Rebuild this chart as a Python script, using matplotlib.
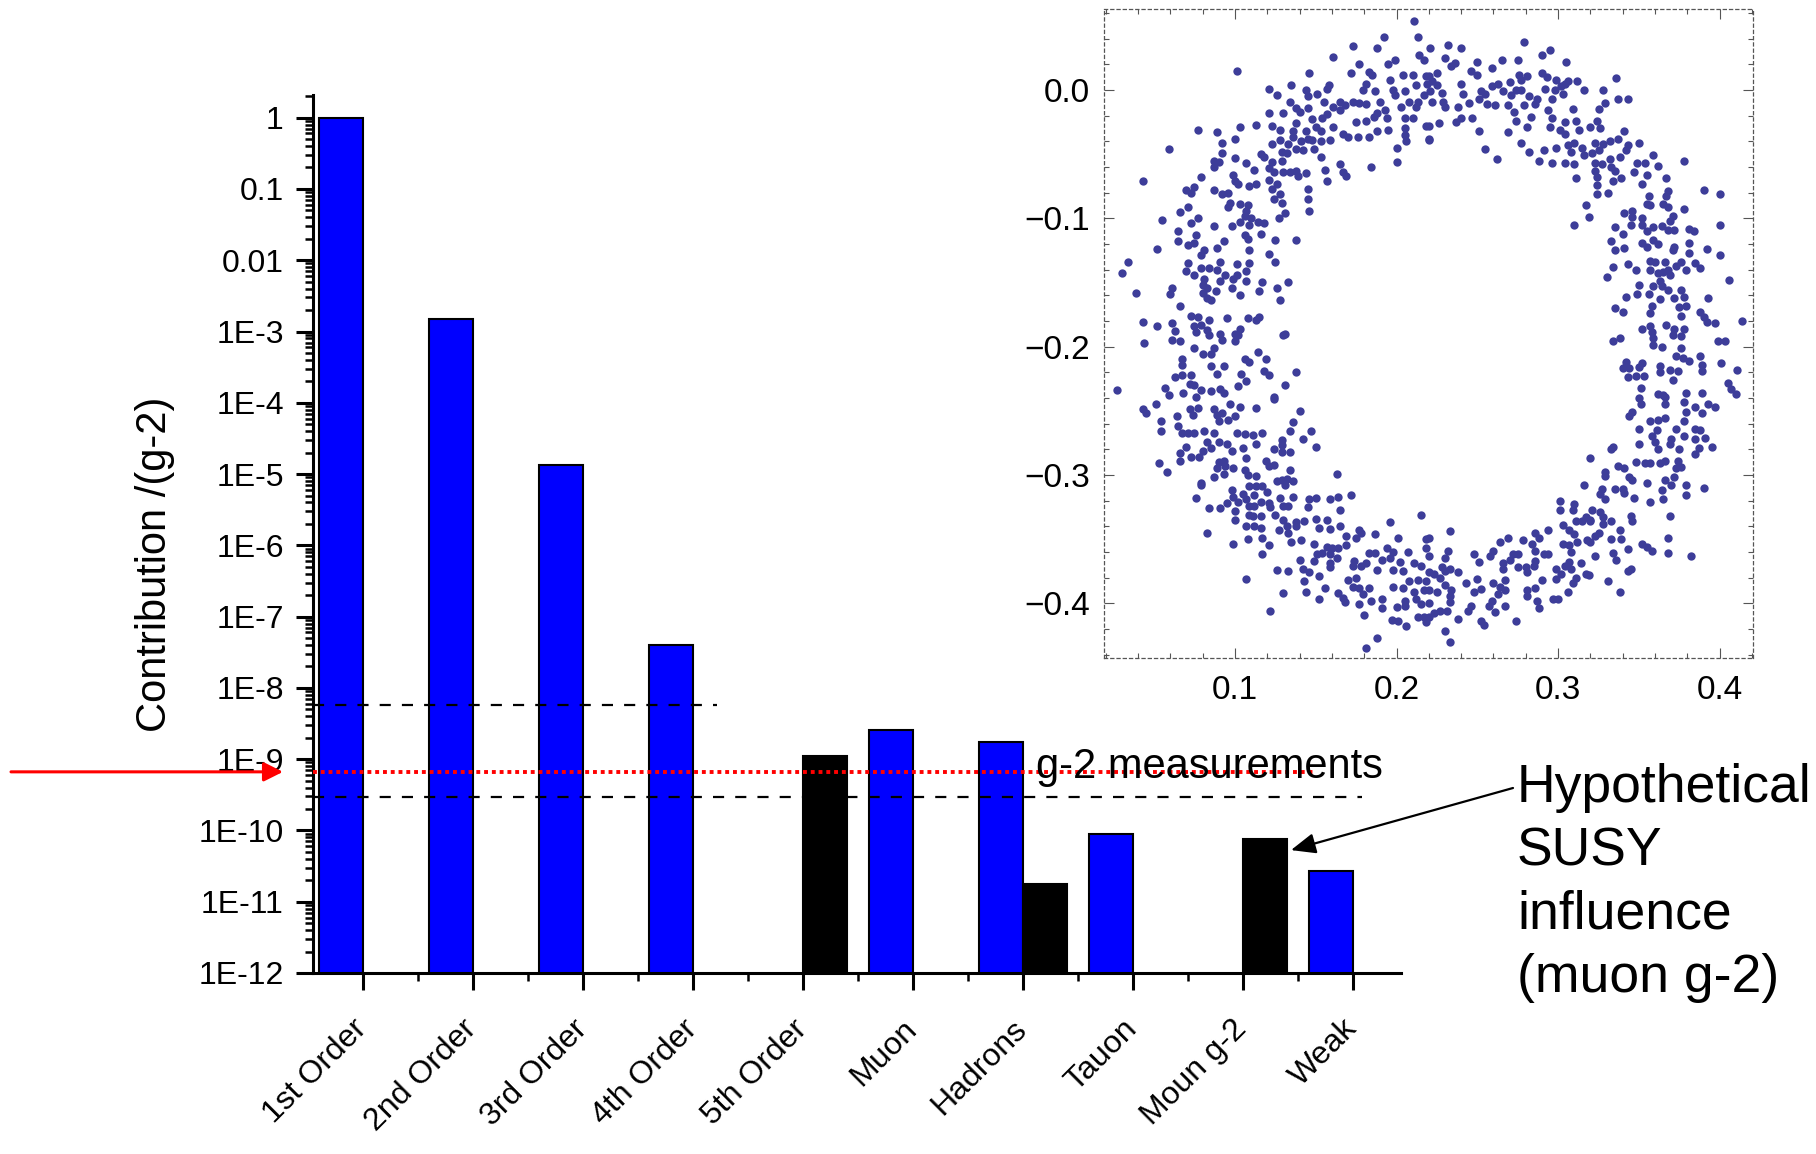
import matplotlib
matplotlib.use('Agg')
import matplotlib.pyplot as plt
import numpy as np
from matplotlib.ticker import MultipleLocator, LogLocator, NullFormatter, FuncFormatter

plt.rcParams['font.family'] = ['Liberation Sans', 'DejaVu Sans']

# ---- main bar chart data (contribution relative to g-2) ----
categories = ['1st Order', '2nd Order', '3rd Order', '4th Order', '5th Order',
              'Muon', 'Hadrons', 'Tauon', 'Moun g-2', 'Weak']
blue_vals = [1.0, 1.52e-3, 1.35e-5, 4.06e-8, np.nan,
             2.53e-9, 1.73e-9, 8.98e-11, np.nan, 2.72e-11]
black_vals = [np.nan, np.nan, np.nan, np.nan, 1.11e-9,
              np.nan, 1.77e-11, np.nan, 7.55e-11, np.nan]

y_ticks = [1, 0.1, 0.01, 1e-3, 1e-4, 1e-5, 1e-6, 1e-7, 1e-8, 1e-9, 1e-10, 1e-11, 1e-12]
y_tick_labels = ['1', '0.1', '0.01', '1E-3', '1E-4', '1E-5', '1E-6', '1E-7',
                 '1E-8', '1E-9', '1E-10', '1E-11', '1E-12']

# reference lines: measurement band and measured value
band_upper, band_upper_end = 5.67e-9, 3.22
band_lower, band_lower_end = 2.93e-10, 9.09
g2_measured, g2_measured_end = 6.64e-10, 8.66
susy_tip = (8.44, 5.3e-11)

# ---- inset scatter (ring of points) ----
ring_upper_left = [
    (0.211, 0.054), (0.192, 0.041), (0.213, 0.041), (0.173, 0.034), (0.188, 0.033), (0.161, 0.026), (0.214, 0.027),
    (0.199, 0.023), (0.195, 0.020), (0.217, 0.023), (0.177, 0.020), (0.101, 0.015), (0.146, 0.013), (0.172, 0.013),
    (0.183, 0.014), (0.185, 0.012), (0.204, 0.012), (0.210, 0.012), (0.218, 0.011), (0.196, 0.008), (0.219, 0.005),
    (0.135, 0.004), (0.121, 0.001), (0.158, 0.004), (0.181, 0.005), (0.212, 0.004), (0.144, 0.000), (0.151, -0.003),
    (0.179, 0.000), (0.187, -0.001), (0.198, 0.000), (0.205, -0.001), (0.126, -0.004), (0.145, -0.005), (0.157, 0.001),
    (0.199, -0.004), (0.217, -0.004), (0.134, -0.009), (0.155, -0.009), (0.165, -0.009), (0.173, -0.009), (0.177, -0.010),
    (0.181, -0.011), (0.190, -0.009), (0.208, -0.009), (0.213, -0.009), (0.138, -0.014), (0.145, -0.014), (0.161, -0.013),
    (0.168, -0.012), (0.203, -0.013), (0.212, -0.013), (0.121, -0.018), (0.130, -0.018), (0.140, -0.017), (0.165, -0.016),
    (0.188, -0.018), (0.193, -0.016), (0.148, -0.023), (0.154, -0.022), (0.157, -0.019), (0.175, -0.025), (0.181, -0.024),
    (0.186, -0.021), (0.194, -0.022), (0.205, -0.022), (0.210, -0.022), (0.113, -0.027), (0.123, -0.028), (0.138, -0.026),
    (0.150, -0.029), (0.161, -0.029), (0.218, -0.028), (0.077, -0.031), (0.089, -0.033), (0.103, -0.029), (0.128, -0.031),
    (0.136, -0.032), (0.144, -0.032), (0.153, -0.032), (0.188, -0.032), (0.195, -0.031), (0.205, -0.030), (0.167, -0.034),
    (0.170, -0.037), (0.176, -0.037), (0.183, -0.037), (0.205, -0.035), (0.100, -0.038), (0.128, -0.039), (0.136, -0.037),
    (0.145, -0.038), (0.148, -0.039), (0.159, -0.039), (0.092, -0.041), (0.123, -0.042), (0.133, -0.042), (0.141, -0.040),
    (0.153, -0.040), (0.206, -0.040), (0.220, -0.039), (0.059, -0.046), (0.138, -0.046), (0.142, -0.047), (0.149, -0.046),
    (0.200, -0.045), (0.092, -0.049), (0.116, -0.050), (0.129, -0.048), (0.132, -0.049), (0.100, -0.053), (0.153, -0.052),
    (0.129, -0.055), (0.087, -0.055), (0.090, -0.056), (0.107, -0.057), (0.118, -0.052), (0.123, -0.056), (0.165, -0.058),
    (0.200, -0.056), (0.184, -0.060), (0.087, -0.060), (0.099, -0.066), (0.112, -0.062), (0.121, -0.061), (0.124, -0.064),
    (0.130, -0.064), (0.134, -0.064), (0.138, -0.063), (0.139, -0.067), (0.144, -0.065), (0.156, -0.062), (0.167, -0.064),
    (0.169, -0.067), (0.043, -0.071), (0.079, -0.068), (0.100, -0.071), (0.102, -0.073), (0.109, -0.075), (0.113, -0.073),
    (0.121, -0.070), (0.126, -0.073), (0.157, -0.071), (0.070, -0.078), (0.075, -0.076), (0.073, -0.080), (0.087, -0.078),
    (0.092, -0.081), (0.096, -0.080), (0.123, -0.077), (0.128, -0.081), (0.145, -0.077), (0.066, -0.095), (0.071, -0.091),
    (0.096, -0.091), (0.097, -0.088), (0.103, -0.089), (0.108, -0.090), (0.107, -0.094), (0.124, -0.085), (0.129, -0.088),
    (0.145, -0.085), (0.146, -0.094), (0.055, -0.101), (0.077, -0.100), (0.106, -0.098), (0.110, -0.100), (0.114, -0.103),
    (0.118, -0.104), (0.127, -0.100), (0.131, -0.096), (0.073, -0.104), (0.087, -0.106), (0.098, -0.106), (0.103, -0.103),
    (0.109, -0.105), (0.065, -0.110), (0.076, -0.113), (0.106, -0.113), (0.108, -0.116), (0.116, -0.112), (0.065, -0.118),
    (0.071, -0.121), (0.075, -0.119), (0.093, -0.118), (0.125, -0.117), (0.138, -0.117), (0.052, -0.124), (0.081, -0.125),
    (0.079, -0.129), (0.089, -0.123), (0.109, -0.125), (0.121, -0.128), (0.034, -0.134), (0.071, -0.135), (0.091, -0.134),
    (0.101, -0.136), (0.109, -0.135), (0.125, -0.134), (0.030, -0.143), (0.070, -0.141), (0.075, -0.144), (0.079, -0.139),
    (0.084, -0.139), (0.089, -0.140), (0.107, -0.141), (0.094, -0.144), (0.081, -0.147), (0.091, -0.149), (0.099, -0.147),
    (0.101, -0.144), (0.107, -0.149), (0.117, -0.150), (0.133, -0.150), (0.039, -0.158), (0.061, -0.154), (0.060, -0.159),
    (0.080, -0.152), (0.083, -0.154), (0.080, -0.158), (0.088, -0.157), (0.098, -0.154), (0.103, -0.160), (0.115, -0.157),
    (0.126, -0.154), (0.083, -0.162), (0.085, -0.164), (0.128, -0.164), (0.066, -0.168), (0.073, -0.176), (0.077, -0.177),
    (0.084, -0.179), (0.095, -0.178), (0.108, -0.178), (0.113, -0.179), (0.115, -0.177), (0.043, -0.181), (0.052, -0.184),
    (0.061, -0.182), (0.075, -0.184), (0.079, -0.183), (0.063, -0.188), (0.083, -0.187), (0.091, -0.190), (0.103, -0.186),
    (0.100, -0.190), (0.131, -0.190),
]
ring_upper_right = [
    (0.221, 0.033), (0.232, 0.035), (0.240, 0.033), (0.279, 0.037), (0.290, 0.027), (0.295, 0.031), (0.230, 0.025),
    (0.250, 0.022), (0.265, 0.023), (0.275, 0.023), (0.305, 0.022), (0.236, 0.021), (0.234, 0.019), (0.259, 0.017),
    (0.246, 0.015), (0.225, 0.013), (0.250, 0.012), (0.220, 0.011), (0.276, 0.012), (0.281, 0.011), (0.290, 0.013),
    (0.293, 0.010), (0.299, 0.008), (0.304, 0.005), (0.312, 0.007), (0.336, 0.009), (0.222, 0.007), (0.225, 0.004),
    (0.240, 0.005), (0.263, 0.005), (0.270, 0.006), (0.277, 0.008), (0.259, 0.003), (0.292, 0.001), (0.306, 0.007),
    (0.302, 0.003), (0.316, 0.000), (0.328, 0.000), (0.221, -0.001), (0.228, -0.002), (0.241, -0.003), (0.252, -0.001),
    (0.255, -0.003), (0.266, -0.001), (0.274, 0.000), (0.277, 0.000), (0.298, 0.000), (0.303, -0.003), (0.222, -0.009),
    (0.229, -0.009), (0.245, -0.010), (0.251, -0.007), (0.256, -0.011), (0.261, -0.012), (0.269, -0.012), (0.271, -0.004),
    (0.282, -0.005), (0.287, -0.007), (0.296, -0.007), (0.286, -0.011), (0.279, -0.012), (0.329, -0.010), (0.337, -0.007),
    (0.343, -0.007), (0.230, -0.013), (0.238, -0.013), (0.309, -0.015), (0.325, -0.015), (0.273, -0.017), (0.294, -0.016),
    (0.240, -0.022), (0.247, -0.022), (0.283, -0.021), (0.296, -0.022), (0.311, -0.024), (0.324, -0.024), (0.274, -0.024),
    (0.304, -0.025), (0.220, -0.028), (0.237, -0.025), (0.226, -0.026), (0.295, -0.029), (0.281, -0.029), (0.301, -0.031),
    (0.313, -0.031), (0.320, -0.029), (0.326, -0.030), (0.251, -0.032), (0.269, -0.033), (0.304, -0.034), (0.341, -0.032),
    (0.220, -0.038), (0.277, -0.041), (0.306, -0.043), (0.310, -0.041), (0.323, -0.041), (0.328, -0.042), (0.332, -0.040),
    (0.337, -0.038), (0.350, -0.041), (0.255, -0.046), (0.282, -0.048), (0.291, -0.047), (0.299, -0.045), (0.308, -0.048),
    (0.315, -0.045), (0.325, -0.047), (0.343, -0.043), (0.342, -0.047), (0.262, -0.054), (0.288, -0.055), (0.296, -0.057),
    (0.304, -0.057), (0.310, -0.058), (0.316, -0.051), (0.321, -0.049), (0.332, -0.054), (0.338, -0.052), (0.359, -0.051),
    (0.378, -0.055), (0.323, -0.057), (0.327, -0.058), (0.333, -0.060), (0.349, -0.057), (0.354, -0.057), (0.362, -0.059),
    (0.323, -0.063), (0.335, -0.063), (0.347, -0.064), (0.355, -0.066), (0.311, -0.069), (0.324, -0.068), (0.334, -0.071),
    (0.339, -0.069), (0.352, -0.073), (0.367, -0.069), (0.324, -0.074), (0.331, -0.080), (0.324, -0.081), (0.368, -0.079),
    (0.390, -0.078), (0.400, -0.081), (0.356, -0.083), (0.367, -0.083), (0.317, -0.090), (0.355, -0.089), (0.357, -0.090),
    (0.365, -0.089), (0.368, -0.091), (0.378, -0.093), (0.319, -0.099), (0.341, -0.096), (0.346, -0.094), (0.346, -0.099),
    (0.352, -0.100), (0.371, -0.098), (0.310, -0.105), (0.335, -0.107), (0.340, -0.112), (0.345, -0.105), (0.352, -0.105),
    (0.355, -0.110), (0.359, -0.107), (0.364, -0.106), (0.369, -0.102), (0.368, -0.109), (0.372, -0.109), (0.381, -0.108),
    (0.384, -0.110), (0.400, -0.105), (0.333, -0.118), (0.341, -0.123), (0.335, -0.125), (0.352, -0.119), (0.359, -0.117),
    (0.362, -0.120), (0.355, -0.122), (0.372, -0.122), (0.371, -0.125), (0.381, -0.119), (0.392, -0.124), (0.381, -0.127),
    (0.400, -0.129), (0.334, -0.138), (0.343, -0.136), (0.348, -0.140), (0.357, -0.133), (0.360, -0.134), (0.366, -0.134),
    (0.357, -0.140), (0.362, -0.143), (0.368, -0.140), (0.373, -0.137), (0.376, -0.134), (0.379, -0.140), (0.385, -0.135),
    (0.388, -0.139), (0.365, -0.142), (0.369, -0.144), (0.330, -0.146), (0.363, -0.149), (0.364, -0.153), (0.350, -0.152),
    (0.368, -0.156), (0.376, -0.156), (0.406, -0.148), (0.342, -0.161), (0.349, -0.159), (0.356, -0.159), (0.359, -0.153),
    (0.363, -0.163), (0.372, -0.162), (0.378, -0.161), (0.393, -0.162), (0.335, -0.170), (0.340, -0.173), (0.358, -0.168),
    (0.357, -0.174), (0.375, -0.169), (0.379, -0.168), (0.388, -0.173), (0.390, -0.177), (0.376, -0.176), (0.392, -0.181),
    (0.397, -0.182), (0.414, -0.180), (0.352, -0.186), (0.357, -0.184), (0.367, -0.183), (0.372, -0.186), (0.378, -0.186),
]
ring_lower_left = [
    (0.044, -0.197), (0.061, -0.195), (0.066, -0.196), (0.076, -0.189), (0.084, -0.191), (0.092, -0.195), (0.100, -0.196),
    (0.102, -0.191), (0.130, -0.191), (0.075, -0.201), (0.087, -0.201), (0.080, -0.206), (0.085, -0.206), (0.114, -0.204),
    (0.067, -0.210), (0.106, -0.210), (0.109, -0.212), (0.119, -0.210), (0.067, -0.214), (0.085, -0.215), (0.093, -0.215),
    (0.118, -0.219), (0.121, -0.222), (0.138, -0.220), (0.089, -0.221), (0.063, -0.224), (0.067, -0.222), (0.073, -0.222),
    (0.104, -0.221), (0.107, -0.227), (0.072, -0.229), (0.075, -0.230), (0.131, -0.230), (0.027, -0.234), (0.057, -0.232),
    (0.102, -0.231), (0.079, -0.234), (0.085, -0.235), (0.091, -0.233), (0.068, -0.236), (0.059, -0.238), (0.076, -0.239),
    (0.093, -0.236), (0.124, -0.239), (0.124, -0.241), (0.051, -0.245), (0.097, -0.245), (0.103, -0.247), (0.043, -0.249),
    (0.045, -0.252), (0.072, -0.249), (0.077, -0.248), (0.087, -0.249), (0.113, -0.248), (0.140, -0.250), (0.064, -0.254),
    (0.089, -0.253), (0.092, -0.252), (0.100, -0.254), (0.074, -0.253), (0.054, -0.258), (0.090, -0.258), (0.096, -0.257),
    (0.136, -0.259), (0.054, -0.266), (0.065, -0.262), (0.067, -0.267), (0.071, -0.267), (0.075, -0.267), (0.081, -0.266),
    (0.087, -0.267), (0.101, -0.267), (0.106, -0.268), (0.111, -0.269), (0.117, -0.267), (0.134, -0.266), (0.147, -0.266),
    (0.142, -0.272), (0.129, -0.273), (0.083, -0.274), (0.090, -0.274), (0.095, -0.276), (0.070, -0.278), (0.105, -0.279),
    (0.113, -0.276), (0.129, -0.277), (0.150, -0.278), (0.066, -0.283), (0.080, -0.281), (0.085, -0.279), (0.098, -0.281),
    (0.124, -0.280), (0.129, -0.282), (0.134, -0.282), (0.073, -0.286), (0.078, -0.286), (0.107, -0.287), (0.053, -0.291),
    (0.066, -0.289), (0.090, -0.290), (0.093, -0.289), (0.089, -0.295), (0.094, -0.293), (0.099, -0.295), (0.119, -0.289),
    (0.121, -0.293), (0.124, -0.292), (0.058, -0.298), (0.093, -0.299), (0.106, -0.296), (0.108, -0.300), (0.113, -0.301),
    (0.134, -0.296), (0.087, -0.302), (0.126, -0.305), (0.129, -0.304), (0.132, -0.303), (0.136, -0.305), (0.163, -0.299),
    (0.079, -0.306), (0.079, -0.308), (0.098, -0.312), (0.109, -0.309), (0.113, -0.309), (0.117, -0.309), (0.120, -0.313),
    (0.131, -0.308), (0.076, -0.318), (0.099, -0.317), (0.105, -0.315), (0.107, -0.319), (0.102, -0.321), (0.112, -0.316),
    (0.116, -0.321), (0.121, -0.322), (0.128, -0.318), (0.136, -0.317), (0.146, -0.319), (0.150, -0.318), (0.159, -0.319),
    (0.164, -0.317), (0.172, -0.316), (0.084, -0.326), (0.091, -0.326), (0.095, -0.322), (0.100, -0.328), (0.109, -0.324),
    (0.112, -0.324), (0.122, -0.325), (0.130, -0.324), (0.133, -0.324), (0.145, -0.325), (0.165, -0.327), (0.109, -0.331),
    (0.111, -0.332), (0.116, -0.332), (0.125, -0.331), (0.130, -0.335), (0.138, -0.337), (0.143, -0.336), (0.150, -0.334),
    (0.157, -0.335), (0.215, -0.331), (0.100, -0.335), (0.107, -0.340), (0.112, -0.340), (0.116, -0.341), (0.132, -0.340),
    (0.138, -0.340), (0.152, -0.341), (0.159, -0.342), (0.165, -0.340), (0.177, -0.343), (0.196, -0.337), (0.083, -0.345),
    (0.127, -0.343), (0.133, -0.345), (0.169, -0.348), (0.175, -0.349), (0.178, -0.345), (0.187, -0.346), (0.201, -0.349),
    (0.218, -0.350), (0.099, -0.354), (0.108, -0.350), (0.117, -0.349), (0.135, -0.352), (0.141, -0.351), (0.149, -0.354),
    (0.157, -0.356), (0.160, -0.357), (0.164, -0.357), (0.169, -0.355), (0.121, -0.355), (0.218, -0.357), (0.117, -0.362),
    (0.151, -0.362), (0.154, -0.361), (0.159, -0.362), (0.183, -0.361), (0.187, -0.361), (0.194, -0.357), (0.198, -0.360),
    (0.207, -0.360), (0.140, -0.366), (0.149, -0.367), (0.159, -0.369), (0.163, -0.365), (0.174, -0.367), (0.178, -0.371),
    (0.181, -0.369), (0.188, -0.374), (0.191, -0.366), (0.196, -0.365), (0.202, -0.368), (0.211, -0.369), (0.215, -0.371),
    (0.126, -0.374), (0.133, -0.375), (0.142, -0.373), (0.146, -0.376), (0.152, -0.379), (0.159, -0.372), (0.173, -0.371),
    (0.198, -0.374), (0.204, -0.375), (0.220, -0.376), (0.107, -0.381), (0.143, -0.383), (0.170, -0.382), (0.175, -0.380),
    (0.208, -0.383), (0.213, -0.382), (0.218, -0.383), (0.144, -0.391), (0.130, -0.392), (0.156, -0.388), (0.164, -0.392),
    (0.173, -0.387), (0.177, -0.388), (0.183, -0.388), (0.198, -0.387), (0.204, -0.388), (0.211, -0.391), (0.217, -0.390),
    (0.152, -0.397), (0.167, -0.396), (0.168, -0.399), (0.179, -0.393), (0.184, -0.398), (0.191, -0.397), (0.205, -0.398),
    (0.212, -0.397), (0.122, -0.406), (0.177, -0.401), (0.191, -0.404), (0.200, -0.403), (0.205, -0.402), (0.215, -0.401),
    (0.180, -0.409), (0.213, -0.411), (0.217, -0.411), (0.197, -0.413), (0.201, -0.414), (0.206, -0.418), (0.218, -0.415),
    (0.188, -0.427), (0.181, -0.435),
]
ring_lower_right = [
    (0.334, -0.196), (0.338, -0.193), (0.358, -0.189), (0.359, -0.193), (0.371, -0.191), (0.376, -0.192), (0.359, -0.199),
    (0.364, -0.200), (0.376, -0.201), (0.399, -0.196), (0.403, -0.196), (0.373, -0.207), (0.377, -0.209), (0.388, -0.207),
    (0.381, -0.211), (0.342, -0.212), (0.352, -0.213), (0.401, -0.213), (0.340, -0.217), (0.344, -0.217), (0.350, -0.216),
    (0.363, -0.215), (0.369, -0.218), (0.374, -0.219), (0.389, -0.214), (0.389, -0.219), (0.411, -0.218), (0.363, -0.220),
    (0.343, -0.224), (0.348, -0.223), (0.353, -0.223), (0.371, -0.226), (0.405, -0.228), (0.351, -0.232), (0.407, -0.233),
    (0.410, -0.237), (0.362, -0.237), (0.365, -0.238), (0.379, -0.236), (0.389, -0.236), (0.350, -0.240), (0.366, -0.239),
    (0.351, -0.245), (0.366, -0.245), (0.378, -0.243), (0.393, -0.245), (0.397, -0.247), (0.385, -0.247), (0.346, -0.251),
    (0.344, -0.254), (0.379, -0.251), (0.389, -0.252), (0.357, -0.258), (0.362, -0.257), (0.366, -0.256), (0.378, -0.258),
    (0.350, -0.264), (0.361, -0.265), (0.373, -0.264), (0.385, -0.264), (0.388, -0.265), (0.358, -0.270), (0.370, -0.272),
    (0.378, -0.270), (0.385, -0.272), (0.391, -0.271), (0.350, -0.276), (0.360, -0.274), (0.369, -0.276), (0.362, -0.280),
    (0.375, -0.280), (0.387, -0.279), (0.395, -0.278), (0.385, -0.284), (0.333, -0.280), (0.334, -0.278), (0.320, -0.287),
    (0.348, -0.290), (0.354, -0.291), (0.357, -0.291), (0.363, -0.291), (0.366, -0.289), (0.374, -0.289), (0.376, -0.294),
    (0.337, -0.293), (0.341, -0.295), (0.329, -0.298), (0.329, -0.301), (0.344, -0.302), (0.346, -0.304), (0.355, -0.306),
    (0.372, -0.302), (0.373, -0.295), (0.366, -0.304), (0.370, -0.308), (0.379, -0.308), (0.390, -0.310), (0.316, -0.308),
    (0.327, -0.311), (0.335, -0.311), (0.340, -0.311), (0.326, -0.315), (0.329, -0.319), (0.341, -0.314), (0.347, -0.318),
    (0.357, -0.321), (0.364, -0.312), (0.365, -0.319), (0.379, -0.316), (0.301, -0.320), (0.301, -0.327), (0.310, -0.323),
    (0.309, -0.327), (0.321, -0.327), (0.326, -0.329), (0.317, -0.333), (0.320, -0.336), (0.328, -0.333), (0.333, -0.336),
    (0.345, -0.332), (0.346, -0.336), (0.369, -0.332), (0.303, -0.339), (0.311, -0.336), (0.315, -0.336), (0.307, -0.343),
    (0.310, -0.346), (0.320, -0.335), (0.328, -0.338), (0.338, -0.343), (0.333, -0.350), (0.339, -0.350), (0.325, -0.345),
    (0.323, -0.348), (0.368, -0.349), (0.303, -0.354), (0.307, -0.355), (0.312, -0.352), (0.318, -0.351), (0.320, -0.352),
    (0.294, -0.343), (0.288, -0.349), (0.352, -0.354), (0.355, -0.356), (0.358, -0.359), (0.368, -0.361), (0.382, -0.363),
    (0.308, -0.360), (0.334, -0.361), (0.343, -0.358), (0.336, -0.366), (0.323, -0.363), (0.314, -0.369), (0.304, -0.371),
    (0.307, -0.368), (0.308, -0.373), (0.299, -0.373), (0.302, -0.377), (0.299, -0.381), (0.309, -0.384), (0.311, -0.380),
    (0.317, -0.377), (0.319, -0.378), (0.331, -0.383), (0.343, -0.375), (0.345, -0.373), (0.338, -0.391), (0.306, -0.391),
    (0.297, -0.397), (0.300, -0.397), (0.290, -0.382), (0.291, -0.362), (0.294, -0.362), (0.286, -0.345), (0.284, -0.354),
    (0.286, -0.359), (0.286, -0.367), (0.278, -0.351), (0.275, -0.362), (0.272, -0.362), (0.270, -0.366), (0.264, -0.352),
    (0.269, -0.349), (0.260, -0.359), (0.258, -0.363), (0.251, -0.368), (0.248, -0.362), (0.266, -0.369), (0.266, -0.373),
    (0.275, -0.372), (0.280, -0.372), (0.285, -0.371), (0.281, -0.376), (0.286, -0.388), (0.281, -0.390), (0.281, -0.394),
    (0.287, -0.398), (0.288, -0.404), (0.267, -0.382), (0.267, -0.390), (0.264, -0.387), (0.260, -0.384), (0.263, -0.393),
    (0.259, -0.398), (0.257, -0.402), (0.267, -0.402), (0.261, -0.407), (0.250, -0.381), (0.248, -0.391), (0.252, -0.389),
    (0.246, -0.402), (0.243, -0.384), (0.238, -0.412), (0.244, -0.406), (0.252, -0.414), (0.254, -0.417), (0.274, -0.414),
    (0.233, -0.344), (0.232, -0.359), (0.230, -0.365), (0.228, -0.372), (0.233, -0.373), (0.238, -0.376), (0.230, -0.375),
    (0.223, -0.377), (0.227, -0.380), (0.220, -0.349), (0.220, -0.363), (0.220, -0.390), (0.225, -0.391), (0.230, -0.386),
    (0.234, -0.390), (0.233, -0.394), (0.233, -0.399), (0.231, -0.406), (0.227, -0.406), (0.223, -0.408), (0.220, -0.411),
    (0.230, -0.422), (0.233, -0.430), (0.220, -0.400),
]

W, H = 1816, 1154
fig = plt.figure(figsize=(W / 100, H / 100), dpi=100)

# ---------------- main log-scale bar chart ----------------
ax = fig.add_axes([313 / W, 1 - 973 / H, 1088 / W, 878 / H])
x = np.arange(len(categories))
w = 0.4
ax.bar(x - w / 2, blue_vals, w, color='#0000ff', edgecolor='black', linewidth=1.5, zorder=2)
ax.bar(x + w / 2, black_vals, w, color='black', edgecolor='black', linewidth=1.5, zorder=2)
ax.set_yscale('log')
ax.set_ylim(1e-12, 2.08)
ax.set_xlim(-0.45, 9.44)

ax.set_yticks(y_ticks, y_tick_labels)
ax.yaxis.set_minor_locator(LogLocator(base=10, subs=np.arange(2, 10), numticks=100))
ax.yaxis.set_minor_formatter(NullFormatter())
ax.set_xticks(x)
ax.set_xticklabels(categories, rotation=45, ha='right', va='center', rotation_mode='anchor')
ax.set_xticks(x[:-1] + 0.5, minor=True)

ax.tick_params(which='major', direction='out', length=12, width=2.2, labelsize=23)
ax.tick_params(which='minor', direction='out', length=6, width=1.8)
ax.tick_params(axis='y', which='major', pad=9)
ax.tick_params(axis='x', which='major', pad=25)
for side in ['top', 'right']:
    ax.spines[side].set_visible(False)
for side in ['left', 'bottom']:
    ax.spines[side].set_linewidth(2.2)

ax.set_ylabel('Contribution /(g-2)', fontsize=30)
ax.yaxis.set_label_coords(-0.127, 0.465)

# measurement band (dashed) and measured value (red dotted)
xl = ax.get_xlim()[0]
ax.plot([xl, band_upper_end], [band_upper, band_upper], color='black', lw=1.6,
        ls=(0, (5, 5)), zorder=3)
ax.plot([xl, band_lower_end], [band_lower, band_lower], color='black', lw=1.6,
        ls=(0, (5, 5)), zorder=3)
ax.plot([xl, g2_measured_end], [g2_measured, g2_measured], color='#ff0000', lw=2.8,
        ls=(0, (1, 1)), zorder=3)
ax.text(6.12, 5.4e-10, 'g-2 measurements', fontsize=30, ha='left', va='baseline', zorder=4)

# red arrow pointing at the measured value from the left margin
ax.annotate('', xy=(283 / W, g2_measured), xycoords=('figure fraction', 'data'),
            xytext=(11 / W, g2_measured), textcoords=('figure fraction', 'data'),
            arrowprops=dict(arrowstyle='-|>', color='#ff0000', lw=2.2,
                            mutation_scale=29, shrinkA=0, shrinkB=0),
            annotation_clip=False)

# SUSY annotation
susy_lines = ['Hypothetical', 'SUSY', 'influence', '(muon g-2)']
for i, line in enumerate(susy_lines):
    fig.text(1517 / W, 1 - (802 + 63.3 * i) / H, line, fontsize=38.5, ha='left', va='baseline')
ax.annotate('', xy=susy_tip, xycoords='data',
            xytext=(1513 / W, 1 - 788 / H), textcoords='figure fraction',
            arrowprops=dict(arrowstyle='-|>,head_length=0.6,head_width=0.25', color='black',
                            lw=1.6, mutation_scale=25, shrinkA=0, shrinkB=0),
            annotation_clip=False)

# ---------------- inset scatter ----------------
pts = np.array(ring_upper_left + ring_upper_right + ring_lower_left + ring_lower_right)
axi = fig.add_axes([1104 / W, 1 - 658 / H, 649 / W, 649 / H])
axi.scatter(pts[:, 0], pts[:, 1], s=36, color='#3d3d99', linewidths=0, zorder=2)
axi.set_xlim(0.019, 0.4206)
axi.set_ylim(-0.4427, 0.0631)
axi.xaxis.set_major_locator(MultipleLocator(0.1))
axi.xaxis.set_minor_locator(MultipleLocator(0.02))
axi.yaxis.set_major_locator(MultipleLocator(0.1))
axi.yaxis.set_minor_locator(MultipleLocator(0.02))
fmt = FuncFormatter(lambda v, p: f'{round(v, 3) + 0.0:.1f}'.replace('-', '\u2212'))
axi.xaxis.set_major_formatter(fmt)
axi.yaxis.set_major_formatter(fmt)
axi.tick_params(which='both', direction='in', top=True, right=True, color='#555555',
                width=0.8, labelsize=24)
axi.tick_params(which='major', length=7)
axi.tick_params(which='minor', length=3.5)
axi.tick_params(axis='x', pad=12)
axi.tick_params(axis='y', pad=10)
for s in axi.spines.values():
    s.set_linestyle((0, (2.5, 2.5)))
    s.set_linewidth(0.9)
    s.set_edgecolor('#555555')

fig.savefig('out.png', dpi=100)
